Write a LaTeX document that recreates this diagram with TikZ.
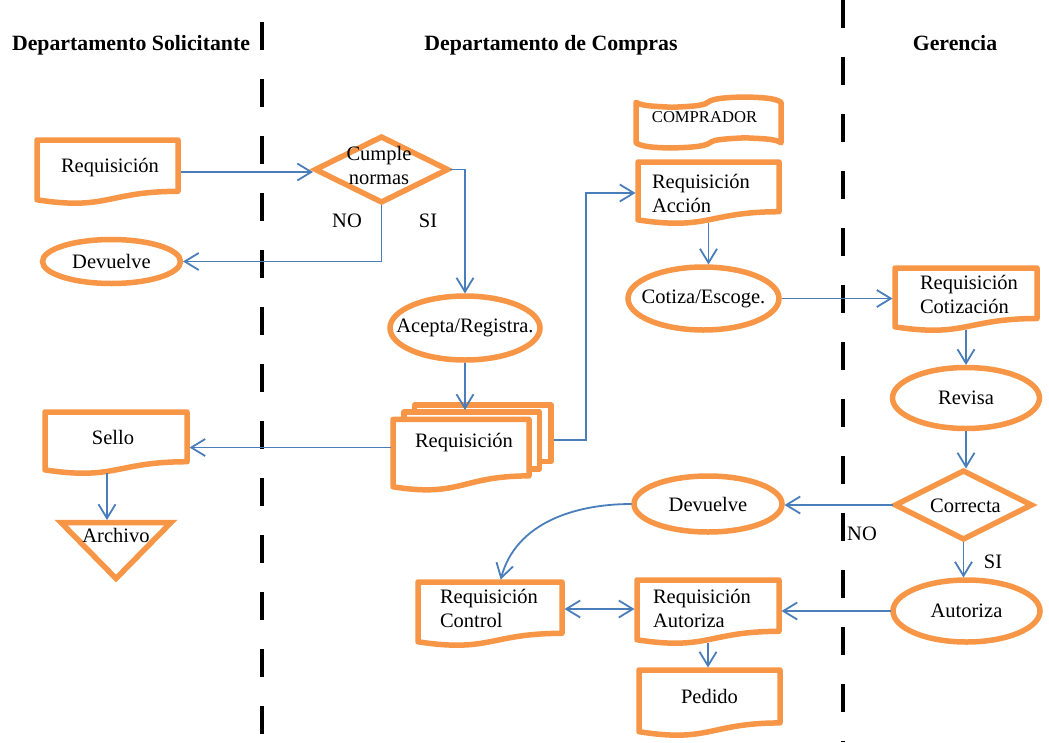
\documentclass[tikz,border=0pt]{standalone}
\usepackage{fontspec}
\setmainfont{Liberation Serif}
\usetikzlibrary{arrows.meta,shapes.geometric,calc}

\definecolor{shapeorange}{HTML}{F79646}
\definecolor{flowblue}{HTML}{4A7EBB}

\newcommand\bodyfont{\fontsize{20.5pt}{24.5pt}\selectfont}
\newcommand\headfont{\fontsize{21.8pt}{26pt}\selectfont\bfseries}
\newcommand\tapefont{\fontsize{16.6pt}{20pt}\selectfont}

% outline of a single document symbol (wavy bottom) inside node #1 of size #2 x #3
\newcommand\docoutline[3]{%
  \draw[shapeline, shift={(#1.north west)}, xscale=#2, yscale=#3]
    (0,0) -- (1,0) -- (1,0.802)
    .. controls (0.5,0.802) and (0.5,1.107) .. (0,0.934) -- cycle;}

\tikzset{
  shapeline/.style={draw=shapeorange, line width=5.5pt, line join=round},
  docframe/.style 2 args={rectangle, inner sep=0pt, outer sep=0pt,
    minimum width=#1pt, minimum height=#2pt},
  ovalnode/.style 2 args={ellipse, draw=shapeorange, line width=5.5pt,
    inner sep=0pt, outer sep=0pt, minimum width=#1pt, minimum height=#2pt,
    font=\bodyfont},
  decision/.style 2 args={diamond, draw=shapeorange, line width=5.5pt,
    line join=miter, inner sep=0pt, outer sep=0pt,
    minimum width=#1pt, minimum height=#2pt},
  lbl/.style={inner sep=0pt, outer sep=0pt, font=\bodyfont},
  head/.style={inner sep=0pt, outer sep=0pt, font=\headfont, anchor=base},
  lane/.style={draw=black, line width=3.5pt, dash pattern=on 28pt off 29pt},
  flow/.style={draw=flowblue, line width=1.8pt,
    -{Straight Barb[length=14pt,width=17pt]},
    shorten >=2.5pt, shorten <=2.5pt},
  flowboth/.style={flow,
    {Straight Barb[length=14pt,width=17pt]}-{Straight Barb[length=14pt,width=17pt]}},
}

\begin{document}
\begin{tikzpicture}[x=1pt, y=-1pt]
\useasboundingbox (0,0) rectangle (1049,742);

% swim lane separators
\coordinate (laneA-top) at (262,0);
\coordinate (laneA-bot) at (262,742);
\coordinate (laneB-top) at (843,0);
\coordinate (laneB-bot) at (843,742);
\draw[lane, dash phase=35pt] (laneA-top) -- (laneA-bot);
\draw[lane, dash phase=0pt] (laneB-top) -- (laneB-bot);

% lane titles
\node[head] (hA) at (131,50) {Departamento Solicitante};
\node[head] (hB) at (551,50) {Departamento de Compras};
\node[head] (hC) at (955,50) {Gerencia};

% ---- Departamento Solicitante
\node[docframe={141}{64}] (req1) at (107.5,172) {};
\docoutline{req1}{141}{64}
\node[lbl, anchor=base] (req1-t) at (110,172) {Requisición};

\node[ovalnode={138}{44}] (dev1) at (111.5,261.5) {\makebox[0pt]{Devuelve}};

\node[docframe={142}{62}] (sello) at (116,443) {};
\docoutline{sello}{142}{62}
\node[lbl, anchor=base] (sello-t) at (113,444) {Sello};

\node[docframe={110}{56}] (arch) at (116,550.5) {};
\draw[shapeline, line join=miter, shift={(arch.north west)}, xscale=110, yscale=56]
  (0,0) -- (1,0) -- (0.5,1) -- cycle;
\node[lbl, anchor=base] (arch-t) at (116,542) {Archivo};

% ---- Departamento de Compras
\node[decision={132}{65}] (cn) at (381.5,169.5) {};
\node[lbl, align=center, anchor=south] (cn-t) at (379,185) {Cumple\\normas};
\node[lbl, anchor=base] (no1) at (347,227) {NO};
\node[lbl, anchor=base] (si1) at (428,227) {SI};

\node[ovalnode={150}{64}] (acepta) at (465,328) {\makebox[0pt]{Acepta/Registra.}};

% stacked documents
\node[docframe={158}{85}] (mdoc) at (472,447.5) {};
\begin{scope}[shift={(mdoc.north west)}, xscale=158, yscale=85]
  \draw[shapeline] (0.1376,0.084) -- (0.1376,0) -- (1,0) -- (1,0.666) -- (0.926,0.666);
  \draw[shapeline] (0.0709,0.17) -- (0.0709,0.084) -- (0.926,0.084) -- (0.926,0.752) -- (0.861,0.752);
  \draw[shapeline] (0,0.17) -- (0.861,0.17) -- (0.861,0.834)
    .. controls (0.43,0.834) and (0.43,1.09) .. (0,0.962) -- cycle;
\end{scope}
\node[lbl, anchor=base] (mdoc-t) at (464,447) {Requisición};

% punched tape
\node[docframe={145}{51}] (tape) at (708.5,122.5) {};
\draw[shapeline, shift={(tape.north west)}, xscale=145, yscale=51]
  (0,0.103) .. controls (0.038,0.185) and (0.158,0.184) .. (0.249,0.202)
  .. controls (0.344,0.187) and (0.468,0.180) .. (0.495,0.105)
  .. controls (0.530,0.014) and (0.657,0.007) .. (0.748,0)
  .. controls (0.864,0.008) and (0.958,0.018) .. (1,0.103)
  -- (1,0.899)
  .. controls (0.962,0.811) and (0.845,0.817) .. (0.754,0.8)
  .. controls (0.656,0.815) and (0.533,0.824) .. (0.509,0.899)
  .. controls (0.470,0.984) and (0.337,0.991) .. (0.240,1)
  .. controls (0.134,0.992) and (0.042,0.981) .. (0,0.899) -- cycle;
\node[lbl, font=\tapefont, anchor=base] (tape-t) at (704.5,122) {COMPRADOR};

\node[docframe={141}{62}] (acc) at (708.5,193) {};
\docoutline{acc}{141}{62}
\node[lbl, align=left, anchor=south west] (acc-t) at (652,213) {Requisición\\Acción};

\node[ovalnode={151}{63}] (cot) at (703.5,298.5) {\makebox[0pt]{Cotiza/Escoge.}};

\node[ovalnode={148}{56}] (dev2) at (708,504) {\makebox[0pt]{Devuelve}};

\node[docframe={144}{64}] (rctl) at (490,614) {};
\docoutline{rctl}{144}{64}
\node[lbl, align=left, anchor=south west] (rctl-t) at (440,628) {Requisición\\Control};

\node[docframe={142}{64}] (rauto) at (708,612) {};
\docoutline{rauto}{142}{64}
\node[lbl, align=left, anchor=south west] (rauto-t) at (653,628) {Requisición\\Autoriza};

\node[docframe={141}{66}] (ped) at (709.5,703) {};
\docoutline{ped}{141}{66}
\node[lbl, anchor=base] (ped-t) at (709.5,703) {Pedido};

% ---- Gerencia
\node[docframe={142}{63}] (rcot) at (966,299.5) {};
\docoutline{rcot}{142}{63}
\node[lbl, align=left, anchor=south west] (rcot-t) at (920,314) {Requisición\\Cotización};

\node[ovalnode={147}{61}] (revisa) at (966,398) {\makebox[0pt]{Revisa}};

\node[decision={136}{68}] (corr) at (963.5,505) {};
\node[lbl, anchor=base] (corr-t) at (965.5,512) {Correcta};
\node[lbl, anchor=base] (no2) at (862,540) {NO};
\node[lbl, anchor=base] (si2) at (993,568) {SI};

\node[ovalnode={147}{62}] (aut) at (966.5,611) {\makebox[0pt]{Autoriza}};

% ---- connectors
\draw[flow] (req1.east) -- (req1.east -| cn.west);
\draw[flow] (cn.east) -| (acepta.north);
\draw[flow] (cn.south) |- (dev1.east);
\draw[flow, shorten >=-5pt] (acepta.south) -- (acepta.south |- mdoc.north);
\draw[flow] (mdoc.west) -- (mdoc.west -| sello.east);
\draw[flow] ([yshift=7.5pt]mdoc.east) -- ++(35,0) |- (acc.west);
\draw[flow] ([xshift=-9pt,yshift=4pt]sello.south) -- ([xshift=-9pt]arch.north);
\draw[flow] ([yshift=4pt]acc.south) -- (acc.south |- cot.north);
\draw[flow] (cot.east) -- (cot.east -| rcot.west);
\draw[flow] ([yshift=4pt]rcot.south) -- (rcot.south |- revisa.north);
\draw[flow] (revisa.south) -- (revisa.south |- corr.north);
\draw[flow] (corr.west) -- (corr.west -| dev2.east);
\draw[flow] (corr.south) -- (corr.south |- aut.north);
\draw[flow] (aut.west) -- (aut.west -| rauto.east);
\draw[flowboth] ([yshift=5pt]rctl.east) -- ([yshift=5pt]rctl.east -| rauto.west);
\draw[flow] ([yshift=4pt]rauto.south) -- (rauto.south |- ped.north);
\draw[flow] (dev2.west) to[out=180, in=75] ([xshift=10pt]rctl.north);
\end{tikzpicture}
\end{document}
